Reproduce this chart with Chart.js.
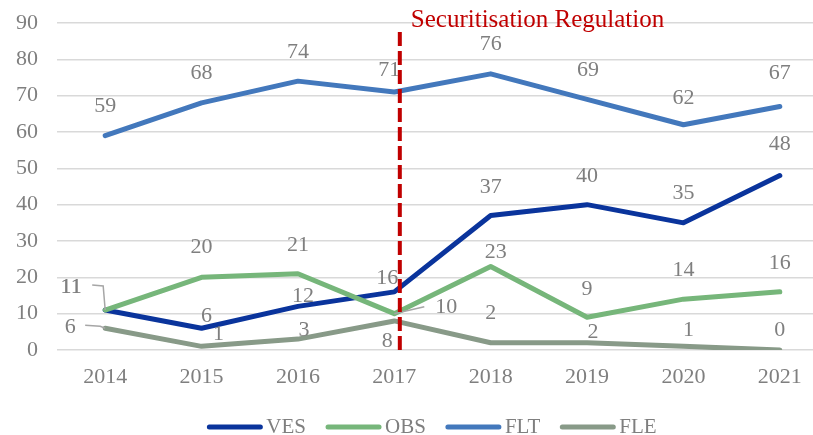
<!DOCTYPE html>
<html>
<head>
<meta charset="utf-8">
<script src="https://cdn.jsdelivr.net/npm/chart.js@4.4.1/dist/chart.umd.min.js"></script>
<style>
  html, body { margin: 0; padding: 0; background: #fff; overflow: hidden; }
  #wrap { width: 830px; height: 435px; position: relative; }
</style>
</head>
<body>
<div id="wrap"><canvas id="chart"></canvas></div>
<script>
// ---- data ----
const years = ['2014', '2015', '2016', '2017', '2018', '2019', '2020', '2021'];
const ves = [11, 6, 12, 16, 37, 40, 35, 48];
const obs = [11, 20, 21, 10, 23, 9, 14, 16];
const flt = [59, 68, 74, 71, 76, 69, 62, 67];
const fle = [6, 1, 3, 8, 2, 2, 1, 0];
const yTicks = [0, 10, 20, 30, 40, 50, 60, 70, 80, 90];
const markerYear = '2017';
const markerText = 'Securitisation Regulation';

const FONT = "'Liberation Serif', 'DejaVu Serif', serif";
const GREY = '#7f7f7f';

// label offsets (px) from each point, Excel-like placement
const labelOffsets = {
  VES: [[-34, -23], [5, -12], [5, -10], [-7, -14], [0, -28], [0, -28], [0, -30], [0, -31]],
  OBS: [[-34, -23], [0, -30], [0, -28], [52, -6], [5, -14], [0, -28], [0, -29], [0, -29]],
  FLT: [[0, -29], [0, -30], [0, -29], [-5, -22], [0, -30], [1, -29], [0, -27], [0, -33]],
  FLE: [[-35, -1], [17, -12], [6, -9], [-7, 20], [0, -30], [6, -11], [5, -16], [0, -20]]
};
// leader lines, relative to the point: [from label, elbow]
const leaders = {
  VES: { 0: [[-13, -25], [-2, -24]] },
  FLE: { 0: [[-20, -3], [-5, -2]] },
  OBS: { 3: [[30, -7], [4, -1]] }
};

const labelPlugin = {
  id: 'pointLabels',
  afterDatasetsDraw(chart) {
    const ctx = chart.ctx;
    ctx.save();
    // leader lines
    ctx.strokeStyle = '#a6a6a6';
    ctx.lineWidth = 1.5;
    chart.data.datasets.forEach((ds, i) => {
      const meta = chart.getDatasetMeta(i);
      const l = leaders[ds.label];
      if (!l) return;
      Object.keys(l).forEach(k => {
        const pt = meta.data[k];
        ctx.beginPath();
        ctx.moveTo(pt.x + l[k][0][0], pt.y + l[k][0][1]);
        ctx.lineTo(pt.x + l[k][1][0], pt.y + l[k][1][1]);
        ctx.lineTo(pt.x, pt.y);
        ctx.stroke();
      });
    });
    // labels
    ctx.fillStyle = GREY;
    ctx.font = '22px ' + FONT;
    ctx.textAlign = 'center';
    ctx.textBaseline = 'middle';
    chart.data.datasets.forEach((ds, i) => {
      const meta = chart.getDatasetMeta(i);
      meta.data.forEach((pt, j) => {
        const off = labelOffsets[ds.label][j];
        ctx.fillText(String(ds.data[j]), pt.x + off[0], pt.y + off[1]);
      });
    });
    ctx.restore();
  }
};

const markerPlugin = {
  id: 'regMarker',
  afterDatasetsDraw(chart) {
    const ctx = chart.ctx;
    const x = chart.scales.x.getPixelForValue(years.indexOf(markerYear)) + 5.5;
    const area = chart.chartArea;
    ctx.save();
    ctx.strokeStyle = '#c00000';
    ctx.lineWidth = 4;
    ctx.setLineDash([14, 5]);
    ctx.beginPath();
    ctx.moveTo(x, area.top + 9);
    ctx.lineTo(x, area.bottom + 2);
    ctx.stroke();
    ctx.setLineDash([]);
    ctx.fillStyle = '#c00000';
    ctx.font = '25px ' + FONT;
    ctx.textAlign = 'left';
    ctx.textBaseline = 'alphabetic';
    ctx.fillText(markerText, x + 11, 27);
    ctx.restore();
  }
};

const legendPlugin = {
  id: 'lineLegend',
  afterDraw(chart) {
    const ctx = chart.ctx;
    ctx.save();
    ctx.font = '21px ' + FONT;
    ctx.textBaseline = 'middle';
    const lineW = 55, gap = 4, itemGap = 20, y = 427;
    const items = chart.data.datasets.map(ds => ({ text: ds.label, color: ds.borderColor, w: ctx.measureText(ds.label).width }));
    const total = items.reduce((s, it) => s + lineW + gap + it.w, 0) + itemGap * (items.length - 1);
    let x = 432 - total / 2;
    items.forEach(it => {
      ctx.strokeStyle = it.color;
      ctx.lineWidth = 5;
      ctx.lineCap = 'round';
      ctx.beginPath();
      ctx.moveTo(x + 2, y);
      ctx.lineTo(x + lineW - 2, y);
      ctx.stroke();
      ctx.fillStyle = GREY;
      ctx.fillText(it.text, x + lineW + gap, y);
      x += lineW + gap + it.w + itemGap;
    });
    ctx.restore();
  }
};

function series(label, data, color, order) {
  return {
    label, data, order,
    borderColor: color,
    backgroundColor: color,
    borderWidth: 5,
    borderCapStyle: 'round',
    borderJoinStyle: 'round',
    pointRadius: 0,
    tension: 0,
    fill: false
  };
}

new Chart(document.getElementById('chart'), {
  type: 'line',
  data: {
    labels: years,
    datasets: [
      series('VES', ves, '#0a349c', 1),
      series('OBS', obs, '#76b67a', 0),
      series('FLT', flt, '#4378bc', 3),
      series('FLE', fle, '#889a88', 2)
    ]
  },
  options: {
    responsive: true,
    maintainAspectRatio: false,
    animation: false,
    layout: { padding: { top: 23, right: 2, left: 0, bottom: 0 } },
    plugins: { legend: { display: false }, tooltip: { enabled: false } },
    scales: {
      x: {
        offset: true,
        grid: { display: false, drawTicks: false },
        border: { display: false },
        ticks: { color: GREY, font: { family: FONT, size: 22 }, padding: 14 },
        afterFit(axis) { axis.height = 85; }
      },
      y: {
        min: 0, max: 90,
        afterBuildTicks(axis) { axis.ticks = yTicks.map(v => ({ value: v })); },
        grid: { color: '#d9d9d9', lineWidth: 1.5, drawTicks: false },
        border: { display: false },
        ticks: { color: GREY, font: { family: FONT, size: 22 }, padding: 19 },
        afterFit(axis) { axis.width = 57; axis.paddingTop = 0; axis.paddingBottom = 0; }
      }
    }
  },
  plugins: [labelPlugin, markerPlugin, legendPlugin]
});
</script>
</body>
</html>
